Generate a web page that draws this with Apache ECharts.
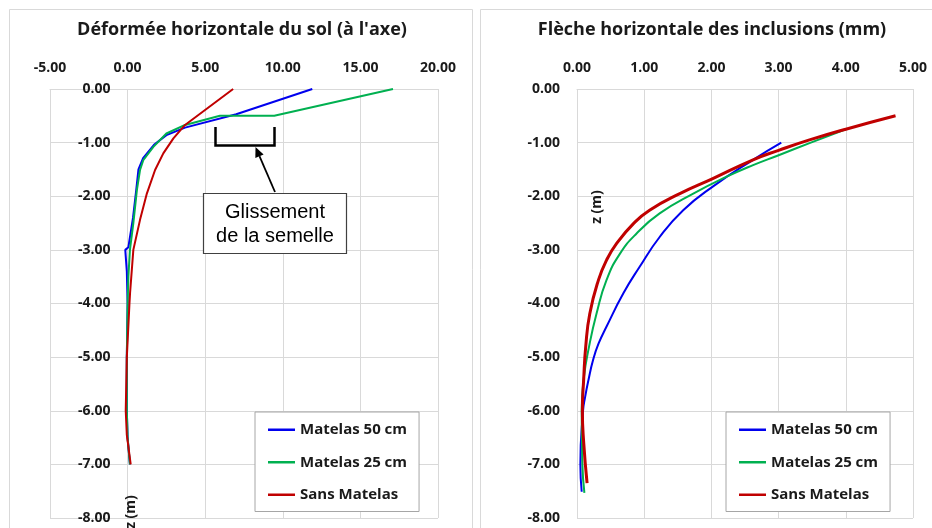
<!DOCTYPE html>
<html>
<head>
<meta charset="utf-8">
<script src="https://cdn.jsdelivr.net/npm/echarts@6/dist/echarts.min.js"></script>
<style>
html,body{margin:0;padding:0;background:#fff;}
#chart{width:932px;height:528px;}
</style>
</head>
<body>
<div id="chart"></div>
<script>
// ---- Data ----
const titleLeft = "Déformée horizontale du sol (à l'axe)";
const titleRight = "Flèche horizontale des inclusions (mm)";
const seriesNames = ["Matelas 50 cm", "Matelas 25 cm", "Sans Matelas"];
const seriesColors = ["#0000ee", "#00b050", "#c00000"];
const depthAxisName = "z (m)";
const annotationText = "Glissement\nde la semelle";

// Left chart: [displacement, z]
const blueLeft = [[11.9,0],[7.0,-0.47],[3.7,-0.72],[2.5,-0.86],[1.7,-1.04],[1.0,-1.29],[0.7,-1.5],[0.55,-1.9],[0.35,-2.4],[0.05,-2.95],[-0.15,-3.0],[-0.05,-3.4],[0.0,-4.0],[-0.05,-5.0],[-0.05,-6.0],[0.0,-6.5],[0.15,-7.0]];
const greenLeft = [[17.1,0],[9.45,-0.5],[5.95,-0.5],[3.7,-0.67],[2.5,-0.83],[1.66,-1.08],[1.02,-1.32],[0.8,-1.51],[0.6,-1.88],[0.37,-2.5],[0.15,-3.0],[0.05,-3.5],[0.0,-4.0],[-0.05,-5.0],[-0.05,-6.0],[0.0,-6.5],[0.15,-7.0]];
const redLeft = [[6.8,0],[3.7,-0.67],[2.95,-0.92],[2.3,-1.2],[1.77,-1.51],[1.24,-1.95],[0.8,-2.44],[0.37,-3.0],[0.16,-3.8],[0.12,-4.0],[-0.05,-5.0],[-0.12,-6.0],[-0.05,-6.45],[0.2,-7.0]];

// Right chart: [deflection mm, z]
const blueRight = [[3.04,-1.0],[2.62,-1.32],[2.02,-1.82],[1.58,-2.26],[1.23,-2.76],[0.93,-3.32],[0.69,-3.81],[0.44,-4.43],[0.32,-4.75],[0.24,-5.05],[0.17,-5.43],[0.12,-5.75],[0.09,-6.0],[0.05,-7.0],[0.07,-7.51]];
const greenRight = [[4.0,-0.75],[3.46,-1.01],[3.01,-1.23],[2.62,-1.42],[2.22,-1.64],[1.73,-1.95],[1.23,-2.32],[0.89,-2.69],[0.64,-3.07],[0.44,-3.56],[0.29,-4.19],[0.18,-4.8],[0.1,-5.4],[0.07,-6.0],[0.08,-7.0],[0.11,-7.53]];
const redRight = [[4.74,-0.5],[4.0,-0.75],[3.46,-0.95],[3.01,-1.14],[2.62,-1.32],[2.02,-1.67],[1.53,-1.95],[1.08,-2.26],[0.84,-2.51],[0.59,-2.88],[0.44,-3.19],[0.32,-3.56],[0.19,-4.19],[0.13,-4.8],[0.1,-5.4],[0.08,-6.0],[0.1,-6.6],[0.15,-7.35]];

// Axis ranges / ticks
const xLeftMin = -5, xLeftMax = 20, xLeftStep = 5;
const xRightMin = 0, xRightMax = 5, xRightStep = 1;
const zMin = -8, zMax = 0, zStep = 1;

// ---- Chart ----
const FONT = 'Open Sans';
const gridColor = '#d9d9d9';
const textColor = '#1a1a1a';
const labelStyle = {fontFamily: FONT, fontWeight: 'bold', fontSize: 14, color: textColor, formatter: v => v.toFixed(2)};

const gridLeft = {left: 50, top: 89, width: 388, height: 429};
const gridRight = {left: 577, top: 89, width: 336, height: 429};
// y axis of left chart crosses at x = 0
const leftZeroOffset = -gridLeft.width * (0 - xLeftMin) / (xLeftMax - xLeftMin);

function xAxis(gi, min, max, step) {
  return {
    type: 'value', gridIndex: gi, position: 'top', min, max, interval: step,
    axisLine: {show: true, onZero: false, lineStyle: {color: gridColor}},
    axisTick: {show: false},
    splitLine: {show: true, lineStyle: {color: gridColor, width: 1}},
    axisLabel: Object.assign({margin: 14}, labelStyle)
  };
}
function yAxis(gi, offset) {
  return {
    type: 'value', gridIndex: gi, min: zMin, max: zMax, interval: zStep,
    position: 'left', offset: offset,
    axisLine: {show: false, onZero: false},
    axisTick: {show: false},
    splitLine: {show: true, lineStyle: {color: gridColor, width: 1}},
    axisLabel: Object.assign({margin: 17}, labelStyle)
  };
}
function line(name, idx, data, gi, width, smooth) {
  return {
    name, type: 'line', xAxisIndex: gi, yAxisIndex: gi, data,
    symbol: 'none', showSymbol: false, smooth: smooth, color: seriesColors[idx],
    lineStyle: {width: width, color: seriesColors[idx]},
    animation: false
  };
}
function legend(left) {
  return {
    data: seriesNames.map(n => ({name: n, icon: 'rect'})),
    left: left, top: 412, orient: 'vertical',
    itemWidth: 27, itemHeight: 2.5, itemGap: 15,
    padding: [9, 12, 8, 13],
    borderColor: '#a6a6a6', borderWidth: 1, backgroundColor: '#fff',
    textStyle: {fontFamily: FONT, fontWeight: 'bold', fontSize: 15, lineHeight: 17.5, color: textColor},
    selectedMode: false
  };
}

// annotation arrow geometry
const tip = [255.5, 147], tail = [275, 192];
const dx = tip[0]-tail[0], dy = tip[1]-tail[1], L = Math.hypot(dx, dy);
const ux = dx/L, uy = dy/L, ah = 10, aw = 4.5;
const base = [tip[0]-ux*ah, tip[1]-uy*ah];

const titleStyle = {fontFamily: FONT, fontWeight: 'bold', fontSize: 18, color: textColor};

const option = {
  backgroundColor: '#fff',
  animation: false,
  title: [
    {text: titleLeft, left: 242, textAlign: 'center', top: 21, padding: 0, textStyle: titleStyle},
    {text: titleRight, left: 712, textAlign: 'center', top: 21, padding: 0, textStyle: titleStyle}
  ],
  grid: [gridLeft, gridRight],
  xAxis: [xAxis(0, xLeftMin, xLeftMax, xLeftStep), xAxis(1, xRightMin, xRightMax, xRightStep)],
  yAxis: [yAxis(0, leftZeroOffset), yAxis(1, 0)],
  legend: [legend(255), legend(726)],
  series: [
    line(seriesNames[0], 0, blueLeft, 0, 2, false),
    line(seriesNames[1], 1, greenLeft, 0, 2, false),
    line(seriesNames[2], 2, redLeft, 0, 2, false),
    line(seriesNames[0], 0, blueRight, 1, 2, true),
    line(seriesNames[1], 1, greenRight, 1, 2, true),
    line(seriesNames[2], 2, redRight, 1, 3, true)
  ],
  graphic: [
    {type: 'rect', shape: {x: 9.5, y: 9.5, width: 463, height: 540}, style: {fill: 'none', stroke: '#d9d9d9', lineWidth: 1}, silent: true, z: -10},
    {type: 'rect', shape: {x: 480.5, y: 9.5, width: 470, height: 540}, style: {fill: 'none', stroke: '#d9d9d9', lineWidth: 1}, silent: true, z: -10},
    {type: 'text', x: 131, y: 512, rotation: Math.PI/2, z: 50,
     style: {text: depthAxisName, fontFamily: FONT, fontWeight: 'bold', fontSize: 14, fill: textColor, align: 'center', verticalAlign: 'middle'}},
    {type: 'text', x: 597, y: 207, rotation: Math.PI/2, z: 50,
     style: {text: depthAxisName, fontFamily: FONT, fontWeight: 'bold', fontSize: 14, fill: textColor, align: 'center', verticalAlign: 'middle'}},
    {type: 'polyline', shape: {points: [[215.5,127],[215.5,145.5],[274.5,145.5],[274.5,127]]}, style: {stroke: '#000', lineWidth: 2.5, fill: 'none'}, z: 50},
    {type: 'line', shape: {x1: tail[0], y1: tail[1], x2: base[0], y2: base[1]}, style: {stroke: '#000', lineWidth: 1.8}, z: 50},
    {type: 'polygon', shape: {points: [tip, [base[0]-uy*aw, base[1]+ux*aw], [base[0]+uy*aw, base[1]-ux*aw]]}, style: {fill: '#000'}, z: 50},
    {type: 'rect', shape: {x: 203.5, y: 193.5, width: 143, height: 60}, style: {fill: '#fff', stroke: '#404040', lineWidth: 1.2}, z: 50},
    {type: 'text', x: 275, y: 224, z: 51,
     style: {text: annotationText, fontFamily: 'Liberation Sans', fontSize: 20, lineHeight: 24, fill: '#000', align: 'center', verticalAlign: 'middle'}}
  ]
};

const chart = echarts.init(document.getElementById('chart'), null, {renderer: 'canvas'});
chart.setOption(option);
</script>
</body>
</html>
